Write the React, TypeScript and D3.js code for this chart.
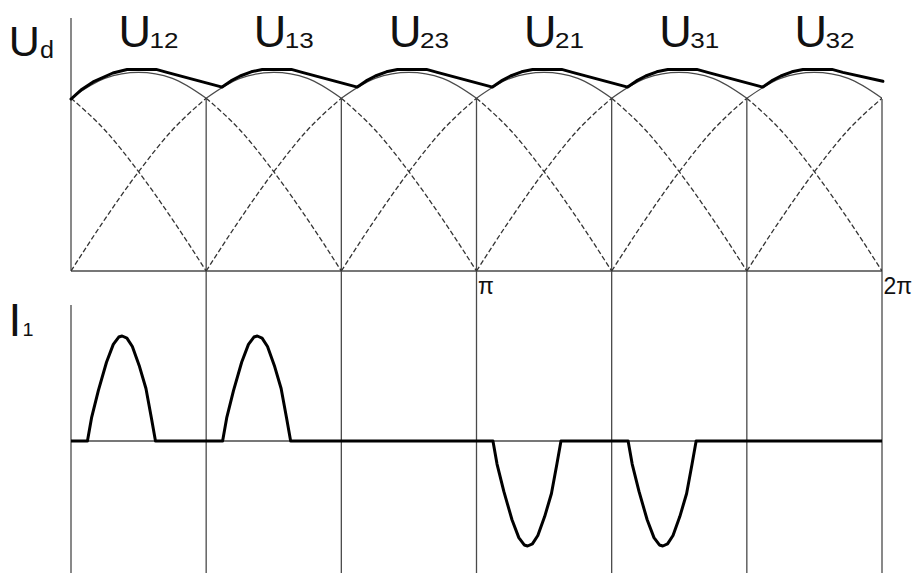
import React from "react";
import * as d3 from "d3";

const WIDTH = 913;
const HEIGHT = 573;

// Sector boundaries of one period, electrical degrees
const SECTOR_EDGES = [0, 60, 120, 180, 240, 300, 360];
// Line voltage that conducts in each sector
const PHASE_NAMES = ["12", "13", "23", "21", "31", "32"];
// Angle labels under the voltage axis
const TICK_DEGREES = [180, 360];
const TICK_LABELS = ["π", "2π"];

// Centres of the line-voltage half waves (deg)
const ARC_CENTERS = [-30, 30, 90, 150, 210, 270, 330, 390];
// One half wave: offset from its centre (deg) and relative height
const ARC_OFFSETS = [-90, -75, -60, -45, -30, -15, 0, 15, 30, 45, 60, 75, 90];
const ARC_VALUES = [0, 0.26, 0.5, 0.71, 0.87, 0.97, 1, 0.97, 0.87, 0.71, 0.5, 0.26, 0];

// Rectified voltage envelope Ud: start of the first sector,
// then the shape repeated in each sector (offset deg, value)
const ENV_START_DEG = [0, 4.4, 9.8, 18.6];
const ENV_START_VAL = [0.866, 0.911, 0.952, 0.997];
const ENV_SECTOR_DEG = [7.1, 11, 15.1, 20, 24.9, 37.8, 42.6];
const ENV_SECTOR_VAL = [0.926, 0.957, 0.982, 1.003, 1.015, 1.015, 1.0];
const ENV_END_DEG = 360.4;
const ENV_END_VAL = 0.955;

// Phase current I1: conducting sectors and polarity
const PULSE_SECTORS = [0, 1, 3, 4];
const PULSE_SIGNS = [1, 1, -1, -1];
const PULSE_START_DEG = 7.3;
const PULSE_SPAN_DEG = 30.2;
// Pulse shape across its span (fraction) and relative height
const PULSE_T = [0, 0.06, 0.16, 0.28, 0.38, 0.46, 0.51, 0.58, 0.66, 0.76, 0.86, 0.94, 1];
const PULSE_V = [0, 0.22, 0.48, 0.75, 0.92, 0.99, 1, 0.98, 0.9, 0.72, 0.5, 0.22, 0];

const FONT = "'Liberation Sans', Arial, Helvetica, sans-serif";
const THIN = "#4a4a4a";
const DASH = "#333";

export default function App() {
  const x = d3.scaleLinear().domain([0, 360]).range([71, 882]);
  const yU = d3.scaleLinear().domain([0, 1]).range([271, 72.4]);
  const yI = d3.scaleLinear().domain([-1, 1]).range([546, 336]);

  const smooth = d3
    .line<[number, number]>()
    .x((d) => x(d[0]))
    .y((d) => yU(d[1]))
    .curve(d3.curveMonotoneX);

  const envLine = d3
    .line<[number, number]>()
    .x((d) => x(d[0]))
    .y((d) => yU(d[1]))
    .curve(d3.curveLinear);

  const curLine = d3
    .line<[number, number]>()
    .x((d) => x(d[0]))
    .y((d) => yI(d[1]))
    .curve(d3.curveLinear);

  // half-wave pieces: dashed flanks, thin solid crest
  const arcPieces: { d: string; dashed: boolean }[] = [];
  ARC_CENTERS.forEach((c) => {
    const pts: [number, number][] = ARC_OFFSETS.map((o, i) => [c + o, ARC_VALUES[i]]);
    const left = pts.filter((_, i) => ARC_OFFSETS[i] <= -30);
    const crest = pts.filter((_, i) => Math.abs(ARC_OFFSETS[i]) <= 30);
    const right = pts.filter((_, i) => ARC_OFFSETS[i] >= 30);
    arcPieces.push({ d: smooth(left) || "", dashed: true });
    arcPieces.push({ d: smooth(crest) || "", dashed: false });
    arcPieces.push({ d: smooth(right) || "", dashed: true });
  });

  // envelope
  const env: [number, number][] = ENV_START_DEG.map((d, i) => [d, ENV_START_VAL[i]]);
  SECTOR_EDGES.slice(0, 6).forEach((edge, s) => {
    ENV_SECTOR_DEG.forEach((o, i) => {
      if (s === 0 && o < 24) return;
      env.push([edge + o, ENV_SECTOR_VAL[i]]);
    });
  });
  env.push([ENV_END_DEG, ENV_END_VAL]);

  // current
  const cur: [number, number][] = [[0, 0]];
  PULSE_SECTORS.forEach((s, k) => {
    const start = SECTOR_EDGES[s] + PULSE_START_DEG;
    PULSE_T.forEach((t, i) => {
      cur.push([start + t * PULSE_SPAN_DEG, PULSE_SIGNS[k] * PULSE_V[i]]);
    });
  });
  cur.push([360, 0]);

  const crossY = yU(0.866);

  return (
    <svg
      width={WIDTH}
      height={HEIGHT}
      style={{ position: "absolute", left: 0, top: 0, background: "#fff", display: "block" }}
    >
      <defs>
        <clipPath id="plotClip">
          <rect x={x(0)} y={0} width={x(360) - x(0)} height={yU(0) + 1} />
        </clipPath>
      </defs>
      <rect width={WIDTH} height={HEIGHT} fill="#fff" />

      {/* axes */}
      <line x1={x(0)} x2={x(0)} y1={18} y2={yU(0)} stroke={THIN} strokeWidth={1.3} />
      <line x1={x(0)} x2={x(0)} y1={305} y2={HEIGHT} stroke={THIN} strokeWidth={1.3} />
      <line x1={x(0)} x2={x(360)} y1={yU(0)} y2={yU(0)} stroke={THIN} strokeWidth={1.3} />
      <line x1={x(0)} x2={x(360)} y1={yI(0)} y2={yI(0)} stroke={THIN} strokeWidth={1.3} />

      {/* sector boundaries */}
      {SECTOR_EDGES.slice(1).map((e) => (
        <line key={e} x1={x(e)} x2={x(e)} y1={crossY} y2={HEIGHT} stroke={THIN} strokeWidth={1.3} />
      ))}

      {/* line voltage half waves */}
      <g clipPath="url(#plotClip)" fill="none">
        {arcPieces.map((p, i) => (
          <path
            key={i}
            d={p.d}
            stroke={p.dashed ? DASH : THIN}
            strokeWidth={p.dashed ? 1.3 : 1.2}
            strokeDasharray={p.dashed ? "5 2.5" : undefined}
          />
        ))}
      </g>

      {/* rectified voltage */}
      <path d={envLine(env) || ""} fill="none" stroke="#000" strokeWidth={3} strokeLinejoin="round" strokeLinecap="round" />

      {/* phase current */}
      <path d={curLine(cur) || ""} fill="none" stroke="#000" strokeWidth={3} strokeLinejoin="round" />

      {/* labels */}
      <g fontFamily={FONT} fill="#111">
        <text x={8.7} y={56} fontSize={43}>U</text>
        <text x={40} y={58} fontSize={23} textLength={14} lengthAdjust="spacingAndGlyphs">d</text>

        <text x={8.5} y={336} fontSize={46}>I</text>
        <text x={22.5} y={336} fontSize={19} textLength={11} lengthAdjust="spacingAndGlyphs">1</text>

        {PHASE_NAMES.map((n, i) => {
          const cx = x((SECTOR_EDGES[i] + SECTOR_EDGES[i + 1]) / 2);
          return (
            <g key={n}>
              <text x={cx - 20} y={46.5} fontSize={45}>U</text>
              <text x={cx + 11} y={47.5} fontSize={22} textLength={29} lengthAdjust="spacingAndGlyphs">{n}</text>
            </g>
          );
        })}

        {TICK_DEGREES.map((d, i) => (
          <text key={d} x={x(d) + 1.5} y={293.5} fontSize={23}>{TICK_LABELS[i]}</text>
        ))}
      </g>
    </svg>
  );
}
